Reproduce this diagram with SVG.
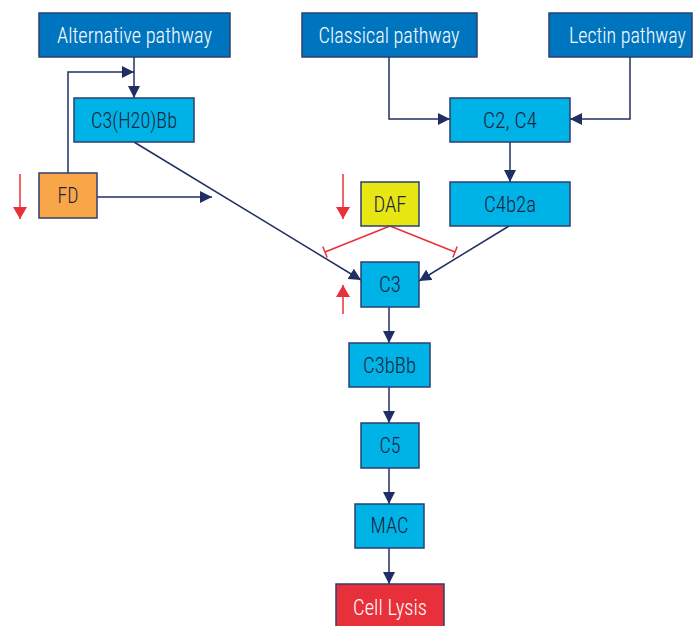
<svg xmlns="http://www.w3.org/2000/svg" width="694" height="626" viewBox="0 0 694 626">
<style>
.box{stroke:#2b3f73;stroke-width:1.5}
.dark{fill:#0075bf}
.light{fill:#00b3e6}
.t{font-family:"Liberation Sans Narrow","Roboto Condensed","Roboto","Liberation Sans",sans-serif;font-size:22px;font-weight:300;text-anchor:middle}
.w{fill:#ffffff}
.k{fill:#1c2340}
.con{fill:none;stroke:#1f2f63;stroke-width:1.5}
.red{fill:none;stroke:#e8303a;stroke-width:1.5}
</style>
<defs>
<marker id="ah" viewBox="0 0 12 12" refX="12" refY="6" markerWidth="12" markerHeight="12" orient="auto" markerUnits="userSpaceOnUse"><path d="M0,0 L12,6 L0,12 z" fill="#1f2f63"/></marker>
<marker id="rh" viewBox="0 0 12 14" refX="12" refY="7" markerWidth="12" markerHeight="14" orient="auto" markerUnits="userSpaceOnUse"><path d="M0,0 L12,7 L0,14 z" fill="#e8303a"/></marker>
</defs>
<rect width="694" height="626" fill="#ffffff"/>
<g id="connectors">
<path class="con" d="M134,57 V98" marker-end="url(#ah)"/>
<path class="con" d="M68,173 V72 H134" marker-end="url(#ah)"/>
<path class="con" d="M389,57 V119 H450" marker-end="url(#ah)"/>
<path class="con" d="M630,57 V119 H570" marker-end="url(#ah)"/>
<path class="con" d="M510,142 V182" marker-end="url(#ah)"/>
<path class="con" d="M97,197 H212" marker-end="url(#ah)"/>
<path class="con" d="M134,142 L361,280" marker-end="url(#ah)"/>
<path class="con" d="M509,226 L419,281" marker-end="url(#ah)"/>
<path class="con" d="M389,307 V343" marker-end="url(#ah)"/>
<path class="con" d="M389,387 V423" marker-end="url(#ah)"/>
<path class="con" d="M389,468 V504" marker-end="url(#ah)"/>
<path class="con" d="M389,548 V584" marker-end="url(#ah)"/>
<path class="red" d="M390,226 L325,252 M322.8,246.4 L327.2,257.6"/>
<path class="red" d="M390,226 L455,252 M457.2,246.4 L452.8,257.6"/>
<path class="red" d="M20,174 V219" marker-end="url(#rh)"/>
<path class="red" d="M343,174 V219" marker-end="url(#rh)"/>
<path class="red" d="M343,314 V285" marker-end="url(#rh)"/>
</g>
<g id="alternative">
<rect class="box dark" x="39" y="13" width="191" height="44"/>
<text class="t w" x="134.5" y="43" textLength="155" lengthAdjust="spacingAndGlyphs">Alternative pathway</text>
</g>
<g id="classical">
<rect class="box dark" x="302" y="13" width="175" height="44"/>
<text class="t w" x="389" y="43" textLength="141" lengthAdjust="spacingAndGlyphs">Classical pathway</text>
</g>
<g id="lectin">
<rect class="box dark" x="549" y="13" width="143" height="44"/>
<text class="t w" x="627.5" y="43" textLength="117" lengthAdjust="spacingAndGlyphs">Lectin pathway</text>
</g>
<g id="c3h2obb">
<rect class="box light" x="74" y="98" width="120" height="44"/>
<text class="t k" x="134" y="128" textLength="86" lengthAdjust="spacingAndGlyphs">C3(H20)Bb</text>
</g>
<g id="c2c4">
<rect class="box light" x="450" y="98" width="120" height="44"/>
<text class="t k" x="510" y="128" textLength="54" lengthAdjust="spacingAndGlyphs">C2, C4</text>
</g>
<g id="fd">
<rect class="box" fill="#f9a648" x="39" y="173" width="58" height="45"/>
<text class="t k" x="68" y="203" textLength="21" lengthAdjust="spacingAndGlyphs">FD</text>
</g>
<g id="daf">
<rect class="box" fill="#e8e613" x="361" y="182" width="58" height="44"/>
<text class="t k" x="390" y="212" textLength="33" lengthAdjust="spacingAndGlyphs">DAF</text>
</g>
<g id="c4b2a">
<rect class="box light" x="450" y="182" width="120" height="44"/>
<text class="t k" x="510" y="212" textLength="52" lengthAdjust="spacingAndGlyphs">C4b2a</text>
</g>
<g id="c3">
<rect class="box light" x="361" y="262" width="58" height="45"/>
<text class="t k" x="390" y="292" textLength="22" lengthAdjust="spacingAndGlyphs">C3</text>
</g>
<g id="c3bbb">
<rect class="box light" x="349" y="343" width="81" height="44"/>
<text class="t k" x="389.5" y="373" textLength="53" lengthAdjust="spacingAndGlyphs">C3bBb</text>
</g>
<g id="c5">
<rect class="box light" x="361" y="423" width="58" height="45"/>
<text class="t k" x="390" y="453" textLength="21" lengthAdjust="spacingAndGlyphs">C5</text>
</g>
<g id="mac">
<rect class="box light" x="355" y="504" width="69" height="44"/>
<text class="t k" x="389.5" y="533" textLength="38" lengthAdjust="spacingAndGlyphs">MAC</text>
</g>
<g id="celllysis">
<rect class="box" fill="#e8303a" x="336" y="584" width="108" height="50"/>
<text class="t w" x="390" y="615" textLength="74" lengthAdjust="spacingAndGlyphs">Cell Lysis</text>
</g>
</svg>
